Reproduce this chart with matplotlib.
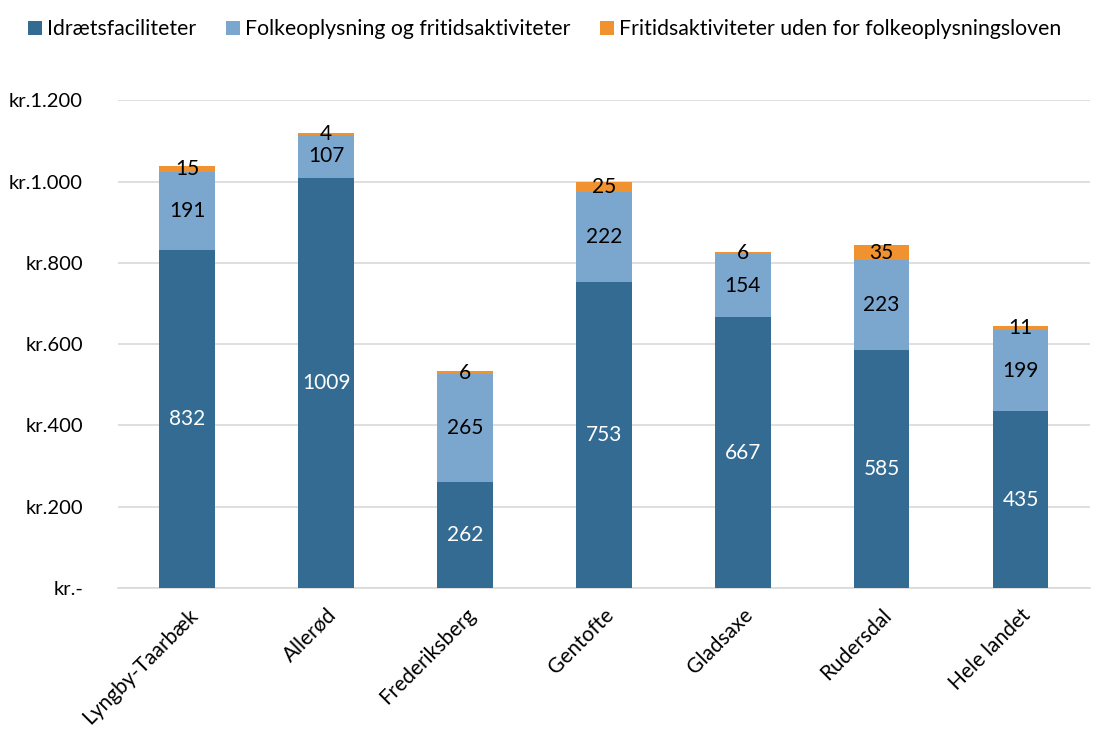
import matplotlib
matplotlib.use("Agg")
import matplotlib.pyplot as plt
import matplotlib.transforms as mtransforms
import numpy as np

plt.rcParams['font.family'] = ['Lato', 'DejaVu Sans']

categories = ["Lyngby-Taarbæk", "Allerød", "Frederiksberg", "Gentofte", "Gladsaxe", "Rudersdal", "Hele landet"]
idraet = [832, 1009, 262, 753, 667, 585, 435]
folke = [191, 107, 265, 222, 154, 223, 199]
fritid = [15, 4, 6, 25, 6, 35, 11]
series_names = ["Idrætsfaciliteter", "Folkeoplysning og fritidsaktiviteter",
                "Fritidsaktiviteter uden for folkeoplysningsloven"]
yticks = [0, 200, 400, 600, 800, 1000, 1200]
ytick_labels = ["kr.-", "kr.200", "kr.400", "kr.600", "kr.800", "kr.1.000", "kr.1.200"]

colors = ["#336B92", "#7BA7CF", "#F0922F"]
label_colors = ["white", "black", "black"]

fig = plt.figure(figsize=(11.01, 7.31), dpi=100)
ax = fig.add_axes([0.107, 0.1956, 0.883, 0.667])

x = np.arange(len(categories))
bottom = np.zeros(len(categories))
for vals, col, lc, name in zip([idraet, folke, fritid], colors, label_colors, series_names):
    bars = ax.bar(x, vals, width=0.4, bottom=bottom, color=col, label=name, zorder=3)
    ax.bar_label(bars, labels=[str(v) for v in vals], label_type='center', color=lc, fontsize=15)
    bottom = bottom + np.array(vals)

ax.set_xlim(-0.5, len(categories) - 0.5)
ax.set_ylim(0, 1200)
ax.set_yticks(yticks)
ax.set_yticklabels(ytick_labels, fontsize=14.5)
ax.set_xticks(x)
ax.set_xticklabels(categories, rotation=45, ha='right', rotation_mode='anchor', fontsize=15)
offset = mtransforms.ScaledTranslation(0.1, 0, fig.dpi_scale_trans)
for lbl in ax.get_xticklabels():
    lbl.set_transform(lbl.get_transform() + offset)
ax.tick_params(axis='both', length=0)
ax.tick_params(axis='y', pad=25)
ax.tick_params(axis='x', pad=12)
ax.grid(axis='y', color='#D9D9D9', linewidth=1.2, zorder=0)
for s in ['top', 'right', 'left']:
    ax.spines[s].set_visible(False)
ax.spines['bottom'].set_color('#D9D9D9')
ax.spines['bottom'].set_linewidth(1.2)

fig.legend(loc='upper left', bbox_to_anchor=(0.008, 1.0), ncol=3, frameon=False,
           fontsize=15.3, handlelength=0.65, handleheight=0.65, handletextpad=0.25,
           columnspacing=1.4)

fig.savefig("out.png", dpi=100)
